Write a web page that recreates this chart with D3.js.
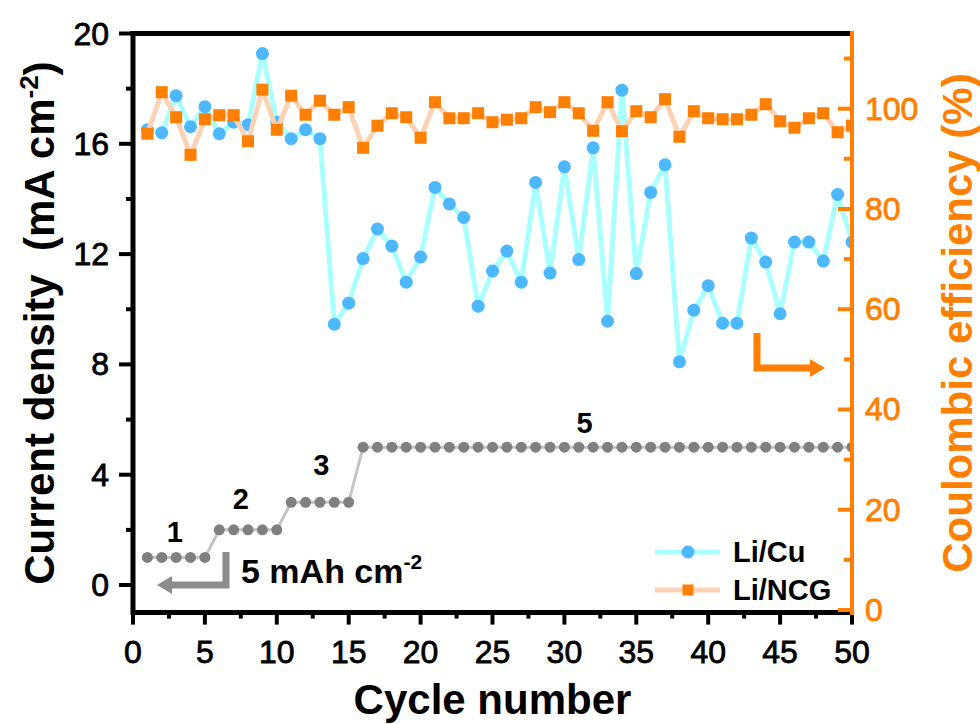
<!DOCTYPE html>
<html>
<meta charset="utf-8">
<style>
  body { margin: 0; background: #fff; }
  svg text { font-family: "Liberation Sans", Arial, sans-serif; }
</style>
<script src="https://d3js.org/d3.v7.min.js"></script>
<body>
<div id="chart"></div>
<script>

// cycle numbers
var cycles = [1,2,3,4,5,6,7,8,9,10,11,12,13,14,15,16,17,18,19,20,
              21,22,23,24,25,26,27,28,29,30,31,32,33,34,35,36,37,38,39,40,
              41,42,43,44,45,46,47,48,49,50];

// current density (mA cm-2), left axis
var currentDensity = [1,1,1,1,1,2,2,2,2,2,3,3,3,3,3,5,5,5,5,5,
                      5,5,5,5,5,5,5,5,5,5,5,5,5,5,5,5,5,5,5,5,
                      5,5,5,5,5,5,5,5,5,5];

// coulombic efficiency (%), right axis
var ceLiCu = [95.8,95.2,102.6,96.4,100.4,95.0,97.3,96.8,111.0,97.3,
              94.0,95.8,94.0,57.0,61.2,70.1,76.0,72.6,65.4,70.4,
              84.3,81.0,78.3,60.6,67.6,71.6,65.4,85.3,67.2,88.4,
              69.9,92.2,57.6,103.7,67.1,83.3,88.8,49.5,59.8,64.7,
              57.2,57.2,74.2,69.4,59.1,73.4,73.4,69.6,82.9,73.4];

var ceLiNCG = [95.0,103.3,98.3,90.8,97.9,98.7,98.7,93.5,103.8,95.8,
               102.6,98.8,101.6,98.8,100.3,92.2,96.6,99.1,98.3,94.2,
               101.3,98.1,98.1,99.1,97.3,97.8,98.1,100.3,99.3,101.3,
               99.1,95.6,101.3,95.5,99.5,98.3,101.9,94.4,99.5,98.1,
               97.9,97.9,98.8,100.9,97.5,96.2,98.1,99.1,95.3,96.6];

var xTicks = [0,5,10,15,20,25,30,35,40,45,50];
var xMinor = [2.5,7.5,12.5,17.5,22.5,27.5,32.5,37.5,42.5,47.5];
var leftTicks = [0,4,8,12,16,20];
var leftMinor = [2,6,10,14,18];
var rightTicks = [0,20,40,60,80,100];
var rightMinor = [10,30,50,70,90,110];
var stepLabels = ["1","2","3","5"];

var W = 980, H = 724;
var L = 133, R = 852, T = 33.5, B = 612.6;
var orange = "#ff7f00";

var svg = d3.select("#chart").append("svg")
  .attr("width", W).attr("height", H);

var x = d3.scaleLinear().domain([0, 50]).range([L, R]);
var yL = d3.scaleLinear().domain([-1, 20]).range([B, T]);
var yR = d3.scaleLinear().domain([0, 115]).range([610, T]);

svg.append("clipPath").attr("id", "plot")
  .append("rect").attr("x", L).attr("y", T).attr("width", R - L).attr("height", B - T);

var g = svg.append("g").attr("clip-path", "url(#plot)");

// current density steps
g.append("path")
  .datum(cycles)
  .attr("fill", "none").attr("stroke", "#c4c4c4").attr("stroke-width", 3)
  .attr("d", d3.line().x(function(d) { return x(d); })
                      .y(function(d, i) { return yL(currentDensity[i]); }));
g.selectAll(".cd").data(cycles).enter().append("circle")
  .attr("cx", function(d) { return x(d); })
  .attr("cy", function(d, i) { return yL(currentDensity[i]); })
  .attr("r", 5.5).attr("fill", "#808080");

// Li/Cu
g.append("path")
  .datum(cycles)
  .attr("fill", "none").attr("stroke", "#aaffff").attr("stroke-width", 5)
  .attr("d", d3.line().x(function(d) { return x(d); })
                      .y(function(d, i) { return yR(ceLiCu[i]); }));
g.selectAll(".cu").data(cycles).enter().append("circle")
  .attr("cx", function(d) { return x(d); })
  .attr("cy", function(d, i) { return yR(ceLiCu[i]); })
  .attr("r", 6.5).attr("fill", "#4db8ff");

// Li/NCG
g.append("path")
  .datum(cycles)
  .attr("fill", "none").attr("stroke", "#fbd3b4").attr("stroke-width", 5)
  .attr("d", d3.line().x(function(d) { return x(d); })
                      .y(function(d, i) { return yR(ceLiNCG[i]); }));
g.selectAll(".ncg").data(cycles).enter().append("rect")
  .attr("x", function(d) { return x(d) - 6; })
  .attr("y", function(d, i) { return yR(ceLiNCG[i]) - 6; })
  .attr("width", 12).attr("height", 12).attr("fill", orange);

// axes frame
svg.append("line").attr("x1", L - 2.5).attr("x2", R).attr("y1", T).attr("y2", T)
  .attr("stroke", "#000").attr("stroke-width", 5);
svg.append("line").attr("x1", L).attr("x2", L).attr("y1", T - 2.5).attr("y2", B + 2.5)
  .attr("stroke", "#000").attr("stroke-width", 5);
svg.append("line").attr("x1", L).attr("x2", R).attr("y1", B).attr("y2", B)
  .attr("stroke", "#000").attr("stroke-width", 5);

// bottom ticks
svg.selectAll(".xt").data(xTicks).enter().append("line")
  .attr("x1", function(d) { return x(d); }).attr("x2", function(d) { return x(d); })
  .attr("y1", B).attr("y2", B + 12).attr("stroke", "#000").attr("stroke-width", 4);
svg.selectAll(".xm").data(xMinor).enter().append("line")
  .attr("x1", function(d) { return x(d); }).attr("x2", function(d) { return x(d); })
  .attr("y1", B).attr("y2", B + 6).attr("stroke", "#000").attr("stroke-width", 4);
svg.selectAll(".xl").data(xTicks).enter().append("text")
  .attr("x", function(d) { return x(d); }).attr("y", 663)
  .attr("text-anchor", "middle").attr("font-size", 32).attr("fill", "#000")
  .attr("stroke", "#000").attr("stroke-width", 0.8)
  .text(function(d) { return d; });

// left ticks
svg.selectAll(".lt").data(leftTicks).enter().append("line")
  .attr("x1", L - 14).attr("x2", L)
  .attr("y1", function(d) { return yL(d); }).attr("y2", function(d) { return yL(d); })
  .attr("stroke", "#000").attr("stroke-width", 4);
svg.selectAll(".lm").data(leftMinor).enter().append("line")
  .attr("x1", L - 7).attr("x2", L)
  .attr("y1", function(d) { return yL(d); }).attr("y2", function(d) { return yL(d); })
  .attr("stroke", "#000").attr("stroke-width", 4);
svg.selectAll(".ll").data(leftTicks).enter().append("text")
  .attr("x", 109).attr("y", function(d) { return yL(d) + 11; })
  .attr("text-anchor", "end").attr("font-size", 32).attr("fill", "#000")
  .attr("stroke", "#000").attr("stroke-width", 0.8)
  .text(function(d) { return d; });

// right axis (orange)
svg.append("line").attr("x1", R).attr("x2", R).attr("y1", T - 2.5).attr("y2", B + 2.5)
  .attr("stroke", orange).attr("stroke-width", 4);
svg.selectAll(".rt").data(rightTicks).enter().append("line")
  .attr("x1", R - 14).attr("x2", R)
  .attr("y1", function(d) { return yR(d); }).attr("y2", function(d) { return yR(d); })
  .attr("stroke", orange).attr("stroke-width", 4);
svg.selectAll(".rm").data(rightMinor).enter().append("line")
  .attr("x1", R - 8).attr("x2", R)
  .attr("y1", function(d) { return yR(d); }).attr("y2", function(d) { return yR(d); })
  .attr("stroke", orange).attr("stroke-width", 4);
svg.selectAll(".rl").data(rightTicks).enter().append("text")
  .attr("x", 865).attr("y", function(d) { return yR(d) + 11; })
  .attr("text-anchor", "start").attr("font-size", 32).attr("fill", orange)
  .attr("stroke", orange).attr("stroke-width", 0.8)
  .text(function(d) { return d; });

// axis titles
svg.append("text")
  .attr("x", (L + R) / 2).attr("y", 714)
  .attr("text-anchor", "middle").attr("font-size", 42).attr("font-weight", "bold")
  .text("Cycle number");

var lt = svg.append("text")
  .attr("transform", "translate(54," + ((T + B) / 2) + ") rotate(-90)")
  .attr("text-anchor", "middle").attr("font-size", 42).attr("font-weight", "bold")
  .attr("xml:space", "preserve").style("white-space", "pre");
lt.append("tspan").text("Current density  (mA cm");
lt.append("tspan").attr("font-size", 26).attr("dy", -16).text("-2");
lt.append("tspan").attr("dy", 16).text(")");

svg.append("text")
  .attr("transform", "translate(972," + ((T + B) / 2) + ") rotate(-90)")
  .attr("text-anchor", "middle").attr("font-size", 42).attr("font-weight", "bold")
  .attr("fill", orange)
  .text("Coulombic efficiency (%)");

// step labels
var stepPos = [[2.9, 1.56], [7.5, 2.76], [13.1, 3.99], [31.4, 5.51]];
svg.selectAll(".sl").data(stepLabels).enter().append("text")
  .attr("x", function(d, i) { return x(stepPos[i][0]); })
  .attr("y", function(d, i) { return yL(stepPos[i][1]); })
  .attr("text-anchor", "middle").attr("font-size", 29).attr("font-weight", "bold")
  .attr("fill", "#000")
  .text(function(d) { return d; });

// capacity note with arrow to left axis
var gray = "#8c8c8c";
svg.append("path")
  .attr("d", "M226,552 L226,585 L170,585")
  .attr("fill", "none").attr("stroke", gray).attr("stroke-width", 7);
svg.append("path").attr("d", "M172,576 L157,585 L172,594 Z").attr("fill", gray);
var cap = svg.append("text").attr("x", 241).attr("y", 583)
  .attr("font-size", 34).attr("font-weight", "bold");
cap.append("tspan").text("5 mAh cm");
cap.append("tspan").attr("font-size", 21).attr("dy", -14).text("-2");

// arrow to right axis
svg.append("path")
  .attr("d", "M757,333 L757,368 L812,368")
  .attr("fill", "none").attr("stroke", orange).attr("stroke-width", 7);
svg.append("path").attr("d", "M810,359 L825,368 L810,377 Z").attr("fill", orange);

// legend
var legend = svg.append("g");
legend.append("line").attr("x1", 655).attr("x2", 720).attr("y1", 552).attr("y2", 552)
  .attr("stroke", "#aaffff").attr("stroke-width", 5);
legend.append("circle").attr("cx", 688).attr("cy", 552).attr("r", 6.5).attr("fill", "#4db8ff");
legend.append("text").attr("x", 733).attr("y", 562).attr("font-size", 29)
  .attr("font-weight", "bold").text("Li/Cu");
legend.append("line").attr("x1", 655).attr("x2", 720).attr("y1", 590).attr("y2", 590)
  .attr("stroke", "#fbd3b4").attr("stroke-width", 5);
legend.append("rect").attr("x", 682.5).attr("y", 584.5).attr("width", 11).attr("height", 11)
  .attr("fill", orange);
legend.append("text").attr("x", 733).attr("y", 600).attr("font-size", 29)
  .attr("font-weight", "bold").text("Li/NCG");

</script>
</body>
</html>
